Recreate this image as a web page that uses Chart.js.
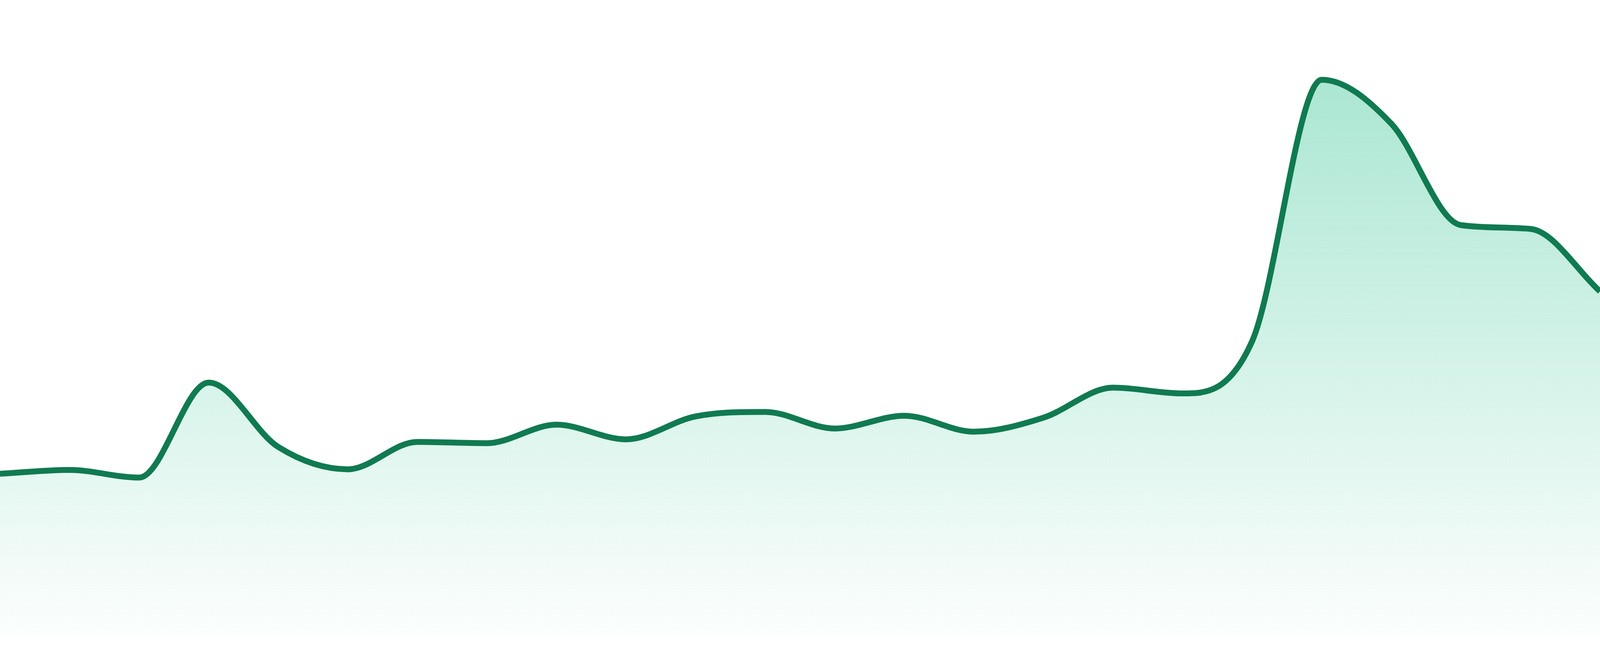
<!DOCTYPE html>
<html>
<head>
<meta charset="utf-8">
<style>
  html, body { margin: 0; padding: 0; background: #ffffff; overflow: hidden; }
  .wrap { position: relative; width: 100vw; height: 100vh; }
</style>
<script src="https://cdn.jsdelivr.net/npm/chart.js@4.4.1/dist/chart.umd.min.js"></script>
</head>
<body>
<div class="wrap"><canvas id="spark"></canvas></div>
<script>
  // one point per period
  const labels = ['01', '02', '03', '04', '05', '06', '07', '08', '09', '10', '11', '12',
    '13', '14', '15', '16', '17', '18', '19', '20', '21', '22', '23', '24'];
  const values = [25.7, 26.3, 25.1, 40.0, 29.9, 26.4, 30.7, 30.5, 33.4, 31.1, 34.7, 35.4,
    32.8, 34.8, 32.3, 34.5, 39.2, 38.3, 46.5, 87.5, 80.6, 64.7, 64.1, 54.3];
  const yMin = 0;
  const yMax = 100;

  const lineColor = '#107a51';

  // sizes were measured on a 4800 x 1680 picture, scale them to the real viewport
  const sy = window.innerHeight / 1680;

  function fillGradient(context) {
    const area = context.chart.chartArea;
    if (!area) return null;
    const g = context.chart.ctx.createLinearGradient(0, area.top, 0, area.bottom);
    g.addColorStop(0, 'rgba(16, 185, 129, 0.40)');
    g.addColorStop(1, 'rgba(16, 185, 129, 0.01)');
    return g;
  }

  const ctx = document.getElementById('spark').getContext('2d');
  new Chart(ctx, {
    type: 'line',
    data: {
      labels,
      datasets: [
        {
          data: values,
          borderColor: lineColor,
          borderWidth: 15 * sy,
          backgroundColor: fillGradient,
          fill: 'start',
          tension: 0.4,
          cubicInterpolationMode: 'monotone',
          pointRadius: 0,
          pointHoverRadius: 0,
        },
      ],
    },
    options: {
      responsive: true,
      maintainAspectRatio: false,
      animation: false,
      layout: { padding: { top: 0, right: 0, bottom: 47 * sy, left: 0 } },
      scales: {
        x: { display: false, offset: false },
        y: { display: false, min: yMin, max: yMax },
      },
      plugins: {
        legend: { display: false },
        tooltip: { enabled: false },
      },
    },
  });
</script>
</body>
</html>
